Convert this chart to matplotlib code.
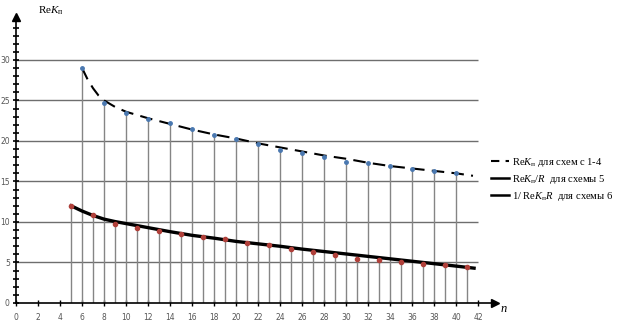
# Re K_n vs n for schemes 1-6

import numpy as np
import matplotlib.pyplot as plt

plt.rcParams['mathtext.fontset'] = 'custom'
plt.rcParams['mathtext.rm'] = 'Liberation Serif'
plt.rcParams['mathtext.it'] = 'Liberation Serif:italic'

# Data
n_upper = [6, 8, 10, 12, 14, 16, 18, 20, 22, 24, 26, 28, 30, 32, 34, 36, 38, 40]
k_upper = [29.0, 24.7, 23.5, 22.7, 22.2, 21.5, 20.7, 20.2, 19.6, 18.9, 18.5, 18.0,
           17.45, 17.25, 16.85, 16.55, 16.3, 16.0]

n_lower = [5, 7, 9, 11, 13, 15, 17, 19, 21, 23, 25, 27, 29, 31, 33, 35, 37, 39, 41]
k_lower = [12.0, 10.8, 9.8, 9.3, 8.9, 8.55, 8.15, 7.85, 7.4, 7.2, 6.7, 6.25, 5.9,
           5.45, 5.3, 5.1, 4.85, 4.65, 4.5]

# fitted curves
n_fit_upper = [6, 6.5, 7, 7.5, 8, 9, 10, 12, 14, 16, 18, 20, 22, 24, 26, 28, 30, 32, 34,
               36, 38, 40, 41.5]
k_fit_upper = [29.0, 27.6, 26.5, 25.6, 25.0, 24.2, 23.6, 22.8, 22.1, 21.4, 20.8, 20.3,
               19.7, 19.2, 18.7, 18.2, 17.8, 17.3, 16.9, 16.6, 16.3, 16.0, 15.7]

n_fit_lower = [5, 6, 7, 8, 9, 10, 12, 14, 16, 18, 20, 22, 24, 26, 28, 30, 32, 34, 36, 38,
               40, 41.6]
k_fit_lower = [12.0, 11.35, 10.8, 10.35, 10.05, 9.8, 9.3, 8.8, 8.35, 8.0, 7.6, 7.3, 7.0,
               6.65, 6.35, 6.05, 5.75, 5.45, 5.15, 4.85, 4.55, 4.3]

labels = [r'Re$K_\mathrm{п}$ для схем с 1-4',
          r'Re$K_\mathrm{п}/R$  для схемы 5',
          r'1/ Re$K_\mathrm{п}R$  для схемы 6']

x_ticks = np.arange(0, 43, 2)
y_ticks = np.arange(0, 31, 5)

fig = plt.figure(figsize=(6.18, 3.32), dpi=100)
ax = fig.add_axes([16 / 618, 29 / 332, 479 / 618, 286 / 332])
ax.set_xlim(0, 43.5)
ax.set_ylim(0, 35.3)

# horizontal grid lines
ax.hlines(y_ticks[1:], 0, 42, color='#6e6e6e', lw=1.0, zorder=1)

# stems
ax.vlines(n_upper, 0, k_upper, color='#858585', lw=1.0, zorder=2)
ax.vlines(n_lower, 0, k_lower, color='#858585', lw=1.0, zorder=2)

# fitted curves
ax.plot(n_fit_upper, k_fit_upper, color='black', lw=1.5, ls=(0, (6, 3.5)), zorder=3)
ax.plot(n_fit_lower, k_fit_lower, color='black', lw=2.4, zorder=3)

# data points
ax.plot(n_upper, k_upper, ls='none', marker='o', ms=2.5, color='#4a78b0', zorder=4)
ax.plot(n_lower, k_lower, ls='none', marker='o', ms=3, color='#b0403a', zorder=4)

# axes look
for s in ['top', 'right']:
    ax.spines[s].set_visible(False)
ax.spines['left'].set_linewidth(1.2)
ax.spines['bottom'].set_linewidth(1.2)
ax.plot(1, 0, '>', color='black', ms=6, transform=ax.transAxes, clip_on=False)
ax.plot(0, 1, '^', color='black', ms=6, transform=ax.transAxes, clip_on=False)

ax.set_xticks(x_ticks)
ax.set_yticks(y_ticks)
ax.set_yticks(np.arange(0, 35, 1), minor=True)
ax.tick_params(axis='y', which='both', direction='inout', length=5, width=1.2,
               labelsize=5.5, labelcolor='#555555', pad=2)
ax.tick_params(axis='x', direction='inout', length=4, width=1.0,
               labelsize=5.5, labelcolor='#555555', pad=5)

ax.text(0.045, 1.0, r'Re$K_\mathrm{п}$', transform=ax.transAxes, fontsize=8,
        family='Liberation Serif', ha='left', va='bottom')
ax.text(1.01, -0.02, r'$n$', transform=ax.transAxes, fontsize=9,
        family='Liberation Serif', ha='left', va='center')

# legend
h1, = ax.plot([], [], color='black', lw=1.5, ls=(0, (4, 3)))
h2, = ax.plot([], [], color='black', lw=1.8)
h3, = ax.plot([], [], color='black', lw=1.8)
leg = fig.legend([h1, h2, h3], labels, loc='center left',
                 bbox_to_anchor=(487 / 618, 0.46), frameon=False,
                 prop={'family': 'Liberation Serif', 'size': 7.6},
                 handlelength=1.7, handletextpad=0.3, labelspacing=0.4,
                 borderaxespad=0.0)

plt.savefig('out.png', dpi=100)
